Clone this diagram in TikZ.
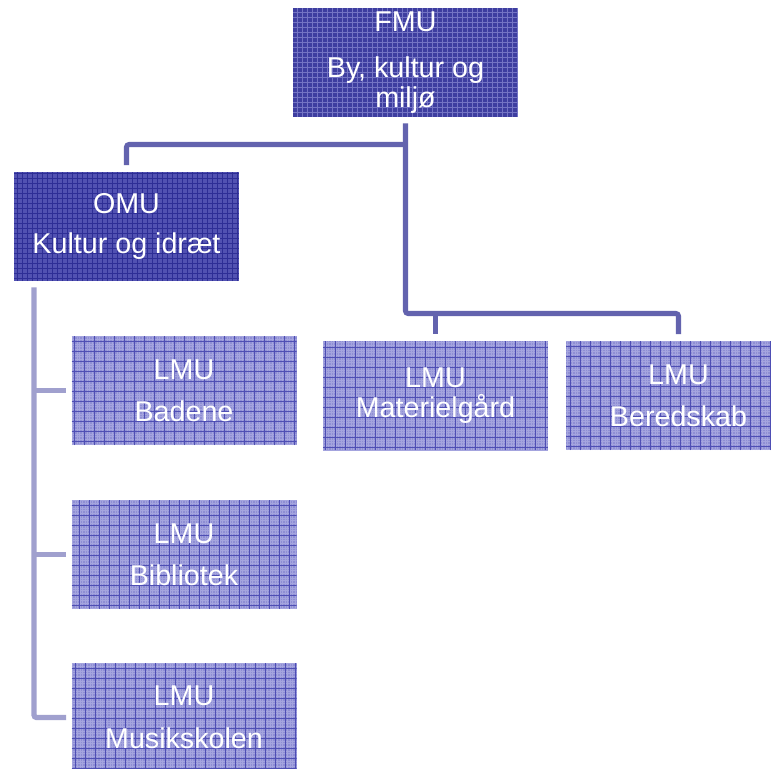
\documentclass[tikz,border=0pt]{standalone}
\usepackage{fontspec}
\newfontfamily\orgfont{Liberation Sans}
\begin{document}
\definecolor{fmufill}{HTML}{3E3EA0}
\definecolor{fmugrid}{HTML}{7474C4}
\definecolor{omufill}{HTML}{5252B2}
\definecolor{omugrid}{HTML}{2E2E96}
\definecolor{lmufill}{HTML}{8E8ED4}
\definecolor{lmutexture}{HTML}{A4A4DE}
\definecolor{lmugrid}{HTML}{4E4EB4}
\definecolor{bosslink}{HTML}{6363AE}
\definecolor{stafflink}{HTML}{A0A0CE}
\begin{tikzpicture}[x=0.75pt,y=-0.75pt,
  orgbox/.style={rectangle, minimum width=168.75pt, minimum height=81.75pt,
    inner sep=0pt, align=center, text=white,
    font=\orgfont\fontsize{21.5}{24}\selectfont},
  fmubox/.style={orgbox, fill=fmufill, path picture={
    \draw[fmugrid, line width=0.5pt, xstep=3.75pt, ystep=3.75pt]
      (path picture bounding box.south west) grid (path picture bounding box.north east);}},
  omubox/.style={orgbox, fill=omufill, path picture={
    \draw[omugrid, line width=0.5pt, xstep=3.75pt, ystep=3.75pt]
      (path picture bounding box.south west) grid (path picture bounding box.north east);}},
  lmubox/.style={orgbox, fill=lmufill, path picture={
    \draw[lmutexture, line width=0.25pt, xstep=1.875pt, ystep=1.875pt]
      (path picture bounding box.south west) grid (path picture bounding box.north east);
    \draw[lmugrid, line width=0.55pt, xstep=7.5pt, ystep=7.5pt]
      (path picture bounding box.south west) grid (path picture bounding box.north east);}},
  bosslinkstyle/.style={draw=bosslink, line width=3.8pt, rounded corners=2pt},
  stafflinkstyle/.style={draw=stafflink, line width=4pt, rounded corners=2pt}]

\clip (0,0) rectangle (771,768);
\fill[white] (0,0) rectangle (771,768);

% boxes
\node[fmubox] (fmu) at (405.5,62.5) {FMU\\[10.5pt]By, kultur og\\[-1.5pt]miljø};
\node[omubox] (omu) at (126.5,226.5) {OMU\\[6pt]Kultur og idræt};
\node[lmubox] (badene) at (184,390.5) {LMU\\[7.5pt]Badene};
\node[lmubox] (bibliotek) at (184,554.5) {LMU\\[7.5pt]Bibliotek};
\node[lmubox] (musik) at (184,717.5) {LMU\\[8pt]Musikskolen};
\node[lmubox] (materiel) at (435.5,395.5) {LMU\\[-1.5pt]Materielgård};
\node[lmubox] (beredskab) at (678.5,395.5) {LMU\\[7.5pt]Beredskab};

% junction points of the connector lines
\coordinate (upperbus) at (405.5,144.5);
\coordinate (lowerbus) at (405.5,313.5);
\coordinate (spine) at (34,300);

% FMU to the units below
\draw[bosslinkstyle, shorten <=4.5pt, shorten >=5pt]
  (fmu.south) |- (lowerbus -| beredskab.north) -- (beredskab.north);
\draw[bosslinkstyle, shorten >=5pt] (upperbus) -| (omu.north);
\draw[bosslinkstyle, shorten >=5pt] (lowerbus -| materiel.north) -- (materiel.north);

% OMU to its local units
\draw[stafflinkstyle, shorten <=4.5pt, shorten >=3.75pt]
  (omu.south -| spine) |- (musik.west);
\draw[stafflinkstyle, shorten >=3.75pt] (badene.west -| spine) -- (badene.west);
\draw[stafflinkstyle, shorten >=3.75pt] (bibliotek.west -| spine) -- (bibliotek.west);
\end{tikzpicture}
\end{document}
